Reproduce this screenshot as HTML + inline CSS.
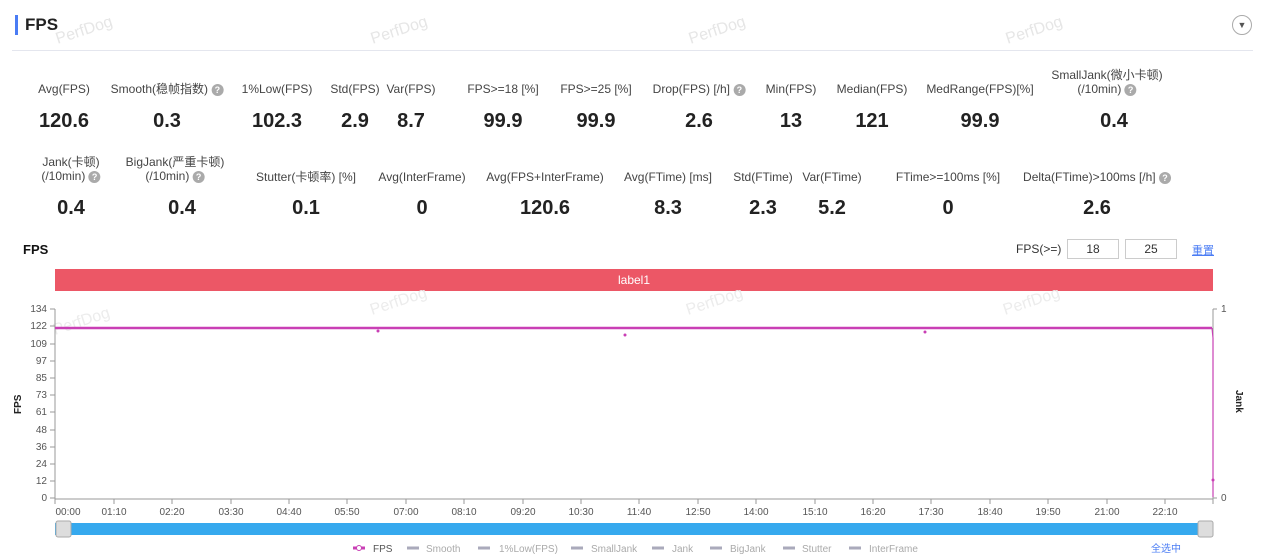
<!DOCTYPE html>
<html><head><meta charset="utf-8"><style>
body{margin:0;width:1268px;height:557px;background:#fff;font-family:"Liberation Sans","Noto Sans CJK SC",sans-serif;position:relative;overflow:hidden;color:#333}
.a{position:absolute;white-space:nowrap}
.l{font-size:12px;color:#444;transform:translateX(-50%);text-align:center;line-height:14px}
.v{font-size:20px;font-weight:bold;color:#222;transform:translateX(-50%)}
.q{display:inline-block;width:12px;height:12px;border-radius:50%;background:#aaa;color:#fff;font-size:9px;line-height:12px;text-align:center;vertical-align:middle;font-weight:bold}
.wm{position:absolute;color:#e6e6e6;font-size:16px;transform:rotate(-18deg)}
</style></head><body>
<div class="a" style="left:15px;top:15px;width:3px;height:20px;background:#4a7cf4"></div>
<div class="a" style="left:25px;top:15px;font-size:17px;font-weight:bold;color:#222">FPS</div>
<div class="a" style="left:1232px;top:15px;width:20px;height:20px;border:1px solid #aaa;border-radius:50%;box-sizing:border-box;text-align:center;font-size:9px;line-height:18px;color:#555">▼</div>
<div class="a" style="left:12px;top:50px;width:1241px;height:1px;background:#e4e6ee"></div>
<div class="wm" style="left:55px;top:22px">PerfDog</div><div class="wm" style="left:370px;top:22px">PerfDog</div><div class="wm" style="left:688px;top:22px">PerfDog</div><div class="wm" style="left:1005px;top:22px">PerfDog</div>

<div class="a l" style="left:64px;top:82px">Avg(FPS)</div><div class="a v" style="left:64px;top:110px">120.6</div>
<div class="a l" style="left:167px;top:82px">Smooth(稳帧指数) <span class="q">?</span></div><div class="a v" style="left:167px;top:110px">0.3</div>
<div class="a l" style="left:277px;top:82px">1%Low(FPS)</div><div class="a v" style="left:277px;top:110px">102.3</div>
<div class="a l" style="left:355px;top:82px">Std(FPS)</div><div class="a v" style="left:355px;top:110px">2.9</div>
<div class="a l" style="left:411px;top:82px">Var(FPS)</div><div class="a v" style="left:411px;top:110px">8.7</div>
<div class="a l" style="left:503px;top:82px">FPS>=18 [%]</div><div class="a v" style="left:503px;top:110px">99.9</div>
<div class="a l" style="left:596px;top:82px">FPS>=25 [%]</div><div class="a v" style="left:596px;top:110px">99.9</div>
<div class="a l" style="left:699px;top:82px">Drop(FPS) [/h] <span class="q">?</span></div><div class="a v" style="left:699px;top:110px">2.6</div>
<div class="a l" style="left:791px;top:82px">Min(FPS)</div><div class="a v" style="left:791px;top:110px">13</div>
<div class="a l" style="left:872px;top:82px">Median(FPS)</div><div class="a v" style="left:872px;top:110px">121</div>
<div class="a l" style="left:980px;top:82px">MedRange(FPS)[%]</div><div class="a v" style="left:980px;top:110px">99.9</div>
<div class="a l" style="left:1107px;top:68px">SmallJank(微小卡顿)<br>(/10min) <span class="q">?</span></div><div class="a v" style="left:1114px;top:110px">0.4</div>

<div class="a l" style="left:71px;top:155px">Jank(卡顿)<br>(/10min) <span class="q">?</span></div><div class="a v" style="left:71px;top:197px">0.4</div>
<div class="a l" style="left:175px;top:155px">BigJank(严重卡顿)<br>(/10min) <span class="q">?</span></div><div class="a v" style="left:182px;top:197px">0.4</div>
<div class="a l" style="left:306px;top:170px">Stutter(卡顿率) [%]</div><div class="a v" style="left:306px;top:197px">0.1</div>
<div class="a l" style="left:422px;top:170px">Avg(InterFrame)</div><div class="a v" style="left:422px;top:197px">0</div>
<div class="a l" style="left:545px;top:170px">Avg(FPS+InterFrame)</div><div class="a v" style="left:545px;top:197px">120.6</div>
<div class="a l" style="left:668px;top:170px">Avg(FTime) [ms]</div><div class="a v" style="left:668px;top:197px">8.3</div>
<div class="a l" style="left:763px;top:170px">Std(FTime)</div><div class="a v" style="left:763px;top:197px">2.3</div>
<div class="a l" style="left:832px;top:170px">Var(FTime)</div><div class="a v" style="left:832px;top:197px">5.2</div>
<div class="a l" style="left:948px;top:170px">FTime>=100ms [%]</div><div class="a v" style="left:948px;top:197px">0</div>
<div class="a l" style="left:1097px;top:170px">Delta(FTime)>100ms [/h] <span class="q">?</span></div><div class="a v" style="left:1097px;top:197px">2.6</div>

<div class="a" style="left:23px;top:242px;font-size:13px;font-weight:bold;color:#111">FPS</div>
<div class="a" style="left:1016px;top:242px;font-size:12px;color:#333">FPS(>=)</div>
<div class="a" style="left:1067px;top:239px;width:50px;height:18px;border:1px solid #ccc;font-size:12px;text-align:center;line-height:18px">18</div>
<div class="a" style="left:1125px;top:239px;width:50px;height:18px;border:1px solid #ccc;font-size:12px;text-align:center;line-height:18px">25</div>
<div class="a" style="left:1192px;top:242px;font-size:11px;color:#4a7cf4;text-decoration:underline">重置</div>
<div class="a" style="left:55px;top:269px;width:1158px;height:22px;background:#ec5766;color:#fff;font-size:12px;text-align:center;line-height:22px">label1</div>

<svg class="a" style="left:0;top:290px" width="1268" height="267" font-family="Liberation Sans, sans-serif">
<g fill="#ececec" font-size="16"><text transform="translate(55 45) rotate(-18)">PerfDog</text><text transform="translate(372 25) rotate(-18)">PerfDog</text><text transform="translate(688 25) rotate(-18)">PerfDog</text><text transform="translate(1005 25) rotate(-18)">PerfDog</text></g>
<g font-size="10" fill="#555" text-anchor="end">
<text x="47" y="22">134</text><text x="47" y="39">122</text><text x="47" y="57">109</text><text x="47" y="74">97</text><text x="47" y="91">85</text><text x="47" y="108">73</text><text x="47" y="125">61</text><text x="47" y="143">48</text><text x="47" y="160">36</text><text x="47" y="177">24</text><text x="47" y="194">12</text><text x="47" y="211">0</text>
</g>
<g stroke="#999" fill="none"><path d="M55 19V209H1213V19M50 19h5M50 36h5M50 54h5M50 71h5M50 88h5M50 105h5M50 122h5M50 140h5M50 157h5M50 174h5M50 191h5M50 208h5M1213 19h4M1213 208h4"/></g>
<text x="1221" y="22" font-size="10" fill="#555">1</text><text x="1221" y="211" font-size="10" fill="#555">0</text>
<text transform="translate(21 124) rotate(-90)" font-size="10" font-weight="bold" fill="#222">FPS</text>
<text transform="translate(1236 100) rotate(90)" font-size="10" font-weight="bold" fill="#222">Jank</text>
<g font-size="10" fill="#555" text-anchor="middle" stroke="#999">
<path d="M55 209v5M114 209v5M172 209v5M231 209v5M289 209v5M347 209v5M406 209v5M464 209v5M523 209v5M581 209v5M639 209v5M698 209v5M756 209v5M815 209v5M873 209v5M931 209v5M990 209v5M1048 209v5M1107 209v5M1165 209v5M1213 209v5"/>
<g stroke="none"><text x="68" y="225">00:00</text><text x="114" y="225">01:10</text><text x="172" y="225">02:20</text><text x="231" y="225">03:30</text><text x="289" y="225">04:40</text><text x="347" y="225">05:50</text><text x="406" y="225">07:00</text><text x="464" y="225">08:10</text><text x="523" y="225">09:20</text><text x="581" y="225">10:30</text><text x="639" y="225">11:40</text><text x="698" y="225">12:50</text><text x="756" y="225">14:00</text><text x="815" y="225">15:10</text><text x="873" y="225">16:20</text><text x="931" y="225">17:30</text><text x="990" y="225">18:40</text><text x="1048" y="225">19:50</text><text x="1107" y="225">21:00</text><text x="1165" y="225">22:10</text></g></g>
<path d="M55 38H1212" stroke="#c93fb5" stroke-width="2.5"/>
<path d="M1212 38L1213 48V207" stroke="#c93fb5" stroke-width="1.2" fill="none"/>
<g fill="#c93fb5"><circle cx="625" cy="45" r="1.5"/><circle cx="378" cy="41" r="1.5"/><circle cx="925" cy="42" r="1.5"/><circle cx="1213" cy="190" r="1.5"/></g>
<rect x="55" y="233" width="1158" height="12" fill="#36a9ee"/>
<rect x="56" y="231" width="15" height="16" rx="2" fill="#ddd" stroke="#aaa"/>
<rect x="1198" y="231" width="15" height="16" rx="2" fill="#ddd" stroke="#aaa"/>
<g font-size="10" fill="#aaa">
<path d="M478 258h12M571 258h12M652 258h12M710 258h12M783 258h12M849 258h12M407 258h12" stroke="#aab" stroke-width="3"/>
<path d="M353 258h12" stroke="#c93fb5" stroke-width="3"/><circle cx="359" cy="258" r="2.5" fill="#fff" stroke="#c93fb5"/>
<text x="373" y="262" fill="#555">FPS</text><text x="426" y="262">Smooth</text><text x="499" y="262">1%Low(FPS)</text><text x="591" y="262">SmallJank</text><text x="672" y="262">Jank</text><text x="730" y="262">BigJank</text><text x="802" y="262">Stutter</text><text x="869" y="262">InterFrame</text>
<text x="1151" y="262" fill="#4a7cf4">全选中</text></g>
</svg>
</body></html>
